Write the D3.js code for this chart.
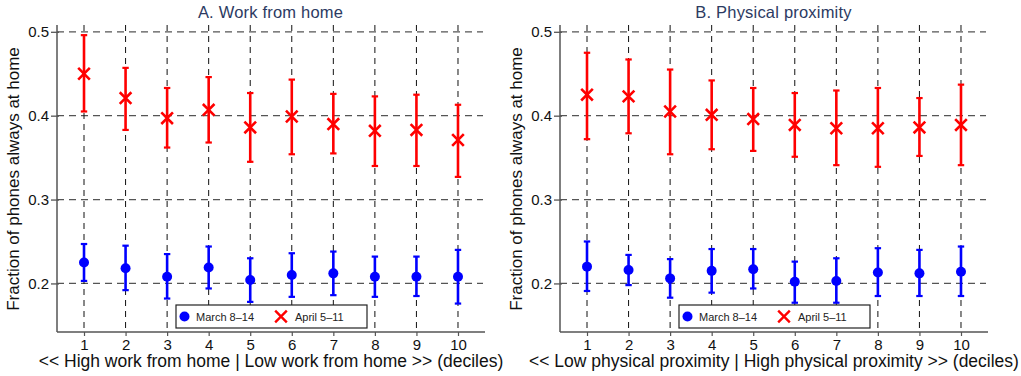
<!DOCTYPE html>
<html>
<head>
<meta charset="utf-8">
<script src="https://cdn.jsdelivr.net/npm/d3@7"></script>
<style>
  html, body { margin: 0; padding: 0; background: #fff; }
  svg { display: block; font-family: "Liberation Sans", Arial, Helvetica, sans-serif; }
</style>
</head>
<body>
<svg id="chart" width="1021" height="376"></svg>
<script>
// Deciles on the x axis
const deciles = [1, 2, 3, 4, 5, 6, 7, 8, 9, 10];
const yTicks = [0.2, 0.3, 0.4, 0.5];

// Panel A: work from home deciles
const wfhMarchMean = [0.225, 0.218, 0.208, 0.219, 0.204, 0.210, 0.212, 0.208, 0.208, 0.208];
const wfhMarchLo   = [0.203, 0.192, 0.182, 0.194, 0.178, 0.184, 0.186, 0.184, 0.185, 0.176];
const wfhMarchHi   = [0.247, 0.245, 0.235, 0.244, 0.230, 0.236, 0.238, 0.232, 0.232, 0.240];
const wfhAprilMean = [0.450, 0.421, 0.397, 0.407, 0.386, 0.399, 0.390, 0.382, 0.383, 0.371];
const wfhAprilLo   = [0.405, 0.383, 0.362, 0.368, 0.345, 0.354, 0.355, 0.340, 0.340, 0.327];
const wfhAprilHi   = [0.496, 0.457, 0.433, 0.446, 0.427, 0.443, 0.426, 0.423, 0.425, 0.413];

// Panel B: physical proximity deciles
const proxMarchMean = [0.220, 0.216, 0.206, 0.215, 0.217, 0.202, 0.203, 0.213, 0.212, 0.214];
const proxMarchLo   = [0.191, 0.198, 0.183, 0.189, 0.194, 0.177, 0.177, 0.185, 0.185, 0.185];
const proxMarchHi   = [0.250, 0.234, 0.229, 0.241, 0.241, 0.226, 0.230, 0.242, 0.240, 0.244];
const proxAprilMean = [0.425, 0.423, 0.405, 0.401, 0.396, 0.389, 0.385, 0.385, 0.386, 0.389];
const proxAprilLo   = [0.372, 0.379, 0.354, 0.360, 0.358, 0.351, 0.341, 0.339, 0.352, 0.341];
const proxAprilHi   = [0.475, 0.467, 0.455, 0.442, 0.433, 0.427, 0.430, 0.433, 0.421, 0.437];

const seriesNames = ["March 8\u201314", "April 5\u201311"];

const panels = [
  {
    title: "A. Work from home",
    xLabel: "<< High work from home | Low work from home >> (deciles)",
    left: 57, right: 485,
    march: { mean: wfhMarchMean, lo: wfhMarchLo, hi: wfhMarchHi },
    april: { mean: wfhAprilMean, lo: wfhAprilLo, hi: wfhAprilHi }
  },
  {
    title: "B. Physical proximity",
    xLabel: "<< Low physical proximity | High physical proximity >> (deciles)",
    left: 560, right: 988,
    march: { mean: proxMarchMean, lo: proxMarchLo, hi: proxMarchHi },
    april: { mean: proxAprilMean, lo: proxAprilLo, hi: proxAprilHi }
  }
];

const svg = d3.select("#chart");
const plotTop = 25, plotBottom = 332;
const yLabel = "Fraction of phones always at home";
const fontStack = "'Liberation Sans', Arial, sans-serif";

panels.forEach(p => {
  const g = svg.append("g");
  const x = d3.scaleLinear().domain([0.35, 10.65]).range([p.left, p.right]);
  const y = d3.scaleLinear().domain([0.1421, 0.5081]).range([plotBottom, plotTop]);

  // horizontal grid
  g.selectAll(".hgrid").data(yTicks).enter().append("line")
    .attr("x1", p.left).attr("x2", p.right - 2)
    .attr("y1", d => y(d)).attr("y2", d => y(d))
    .attr("stroke", "#555").attr("stroke-width", 1.3)
    .attr("stroke-dasharray", "7,5");

  // vertical grid
  g.selectAll(".vgrid").data(deciles).enter().append("line")
    .attr("x1", d => x(d)).attr("x2", d => x(d))
    .attr("y1", plotTop).attr("y2", plotBottom)
    .attr("stroke", "#111").attr("stroke-width", 1)
    .attr("stroke-dasharray", "6,5");

  // y axis: ticks cross the axis line slightly
  const yAxis = d3.axisLeft(y).tickValues(yTicks).tickFormat(d3.format(".1f")).tickSize(6).tickPadding(2);
  const ya = g.append("g").attr("transform", `translate(${p.left},0)`).call(yAxis);
  ya.select(".domain").attr("stroke", "#555").attr("stroke-width", 1.5).attr("d", `M0,${plotTop}V${plotBottom}`);
  ya.selectAll(".tick line").attr("stroke", "#555").attr("stroke-width", 1.3).attr("x2", -6).attr("x1", 2);
  ya.selectAll("text").attr("font-size", 15).attr("fill", "#111").attr("font-family", fontStack);

  // x axis with short ticks below the line
  const xAxis = d3.axisBottom(x).tickValues(deciles).tickFormat(d3.format("d")).tickSize(4).tickPadding(3);
  const xa = g.append("g").attr("transform", `translate(0,${plotBottom})`).call(xAxis);
  xa.select(".domain").attr("stroke", "#555").attr("stroke-width", 1.5).attr("d", `M${p.left},0H${p.right}`);
  xa.selectAll(".tick line").attr("stroke", "#555").attr("stroke-width", 1.2);
  xa.selectAll("text").attr("font-size", 15).attr("fill", "#111").attr("font-family", fontStack);

  // titles and labels
  const cx = (p.left + p.right) / 2;
  g.append("text").attr("x", cx - 0.5).attr("y", 18).attr("text-anchor", "middle")
    .attr("font-size", 16.5).attr("letter-spacing", 0.2).attr("fill", "#2c3a62").text(p.title);
  g.append("text").attr("x", cx).attr("y", 367).attr("text-anchor", "middle")
    .attr("font-size", 17.5).attr("fill", "#111").text(p.xLabel);
  g.append("text")
    .attr("transform", `translate(${p.left - 38},${(plotTop + plotBottom) / 2 + 0.5}) rotate(-90)`)
    .attr("text-anchor", "middle").attr("font-size", 17).attr("fill", "#111").text(yLabel);

  // error bars
  const drawBars = (s, color, w) => {
    const idx = d3.range(deciles.length);
    g.selectAll(null).data(idx).enter().append("line")
      .attr("x1", i => x(deciles[i])).attr("x2", i => x(deciles[i]))
      .attr("y1", i => y(s.lo[i])).attr("y2", i => y(s.hi[i]))
      .attr("stroke", color).attr("stroke-width", w);
    ["lo", "hi"].forEach(k => {
      g.selectAll(null).data(idx).enter().append("line")
        .attr("x1", i => x(deciles[i]) - 3.2).attr("x2", i => x(deciles[i]) + 3.2)
        .attr("y1", i => y(s[k][i])).attr("y2", i => y(s[k][i]))
        .attr("stroke", color).attr("stroke-width", 2.2);
    });
  };
  drawBars(p.april, "#ff0000", 2.6);
  drawBars(p.march, "#0000ff", 2.6);

  // April markers: crosses
  const cross = d3.symbol().type(d3.symbolX).size(90);
  g.selectAll(null).data(d3.range(deciles.length)).enter().append("path")
    .attr("d", cross)
    .attr("transform", i => `translate(${x(deciles[i])},${y(p.april.mean[i])})`)
    .attr("fill", "none").attr("stroke", "#ff0000").attr("stroke-width", 2.6);

  // March markers: dots
  g.selectAll(null).data(d3.range(deciles.length)).enter().append("circle")
    .attr("cx", i => x(deciles[i])).attr("cy", i => y(p.march.mean[i]))
    .attr("r", 5).attr("fill", "#0000ff");

  // legend
  const lx = p.left + 119, ly = 305;
  const lg = g.append("g").attr("transform", `translate(${lx},${ly})`);
  lg.append("rect").attr("width", 191).attr("height", 23)
    .attr("fill", "#fff").attr("stroke", "#222").attr("stroke-width", 1.2);
  lg.append("circle").attr("cx", 8.5).attr("cy", 11.5).attr("r", 5).attr("fill", "#0000ff");
  lg.append("text").attr("x", 20).attr("y", 15.5).attr("font-size", 11).attr("fill", "#222").text(seriesNames[0]);
  lg.append("path").attr("d", cross).attr("transform", "translate(105,11.5)")
    .attr("fill", "none").attr("stroke", "#ff0000").attr("stroke-width", 2.4);
  lg.append("text").attr("x", 119).attr("y", 15.5).attr("font-size", 11).attr("fill", "#222").text(seriesNames[1]);
});
</script>
</body>
</html>
